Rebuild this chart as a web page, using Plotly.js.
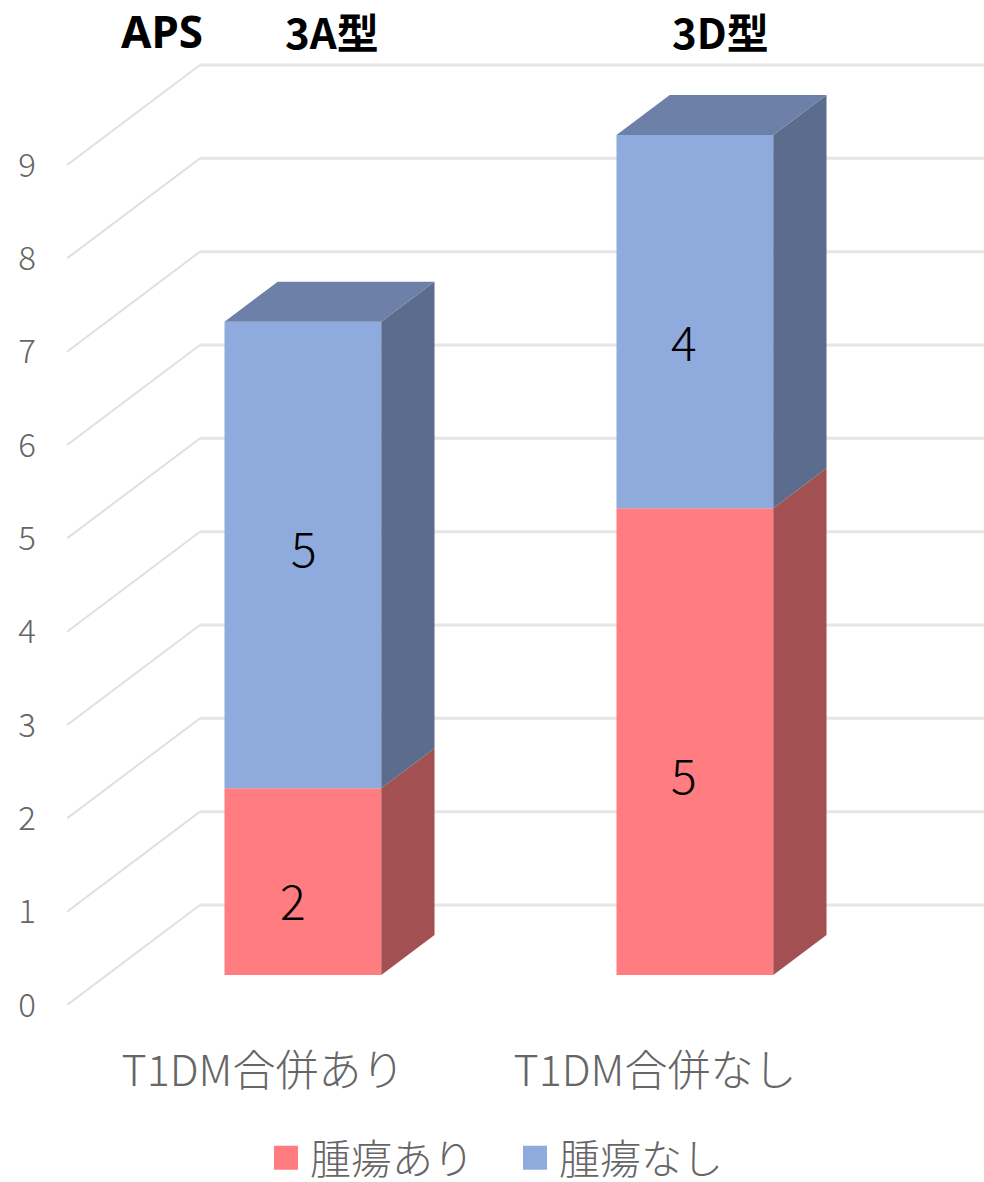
<!DOCTYPE html>
<html><head><meta charset="utf-8">
<script src="https://cdn.plot.ly/plotly-3.0.1.min.js"></script>
<style>html,body{margin:0;padding:0;background:#fff}
.legend .legendpoints path{transform:translate(16px,0) scale(2) !important}</style>
</head><body><div id="chart" style="width:984px;height:1182px"></div>
<script>
const categories = ["T1DM合併あり", "T1DM合併なし"];
const seriesNames = ["腫瘍あり", "腫瘍なし"];
const tumorYes = [2, 5];
const tumorNo = [5, 4];
const tickValues = [0,1,2,3,4,5,6,7,8,9];
const groupTitles = ["3A型", "3D型"];
const chartLabel = "APS";

// oblique projection (axis units per full depth unit)
const DX = 133/392, DY = 100/93.33, FRONT = 0.3, BACK = 0.7, BW = 0.4;
const FONT = '"Noto Sans CJK JP","Noto Sans",sans-serif';
const LATIN = '"Noto Sans",sans-serif';
const LEGEND_FONT = '"Liberation Sans","Noto Sans CJK JP",sans-serif';
const XMIN = -0.5, XMAX = XMIN + 917/392;

const palette = [
  {front:'#FF7C80', side:'#A25052', top:'#B05A5C'},
  {front:'#8FAADC', side:'#5C6C8C', top:'#6C80A8'}
];
const series = [tumorYes, tumorNo];

function poly(xs, ys, color){
  return {type:'scatter', mode:'none', x:xs, y:ys, fill:'toself', fillcolor:color,
          showlegend:false, hoverinfo:'skip'};
}
const traces = [];
// side and top faces
categories.forEach((c,i)=>{
  let base = 0;
  const xl = i - BW/2, xr = i + BW/2;
  series.forEach((s,k)=>{
    const v0 = base, v1 = base + s[i];
    traces.push(poly(
      [xr+FRONT*DX, xr+BACK*DX, xr+BACK*DX, xr+FRONT*DX],
      [v0+FRONT*DY, v0+BACK*DY, v1+BACK*DY, v1+FRONT*DY], palette[k].side));
    base = v1;
  });
  const k = series.length-1;
  traces.push(poly(
    [xl+FRONT*DX, xl+BACK*DX, xr+BACK*DX, xr+FRONT*DX],
    [base+FRONT*DY, base+BACK*DY, base+BACK*DY, base+FRONT*DY], palette[k].top));
});
// front faces: real bars carrying the legend
series.forEach((s,k)=>{
  const bases = s.map((_,i)=>{
    let b = 0; for(let j=0;j<k;j++) b += series[j][i];
    return b + FRONT*DY;
  });
  traces.push({type:'bar', name:seriesNames[k],
    x:categories.map((_,i)=>i+FRONT*DX), y:s, base:bases, width:BW,
    marker:{color:palette[k].front, line:{width:0}}, hoverinfo:'skip'});
});

// wall gridlines, computed from the tick values
const shapes = [];
tickValues.forEach(v=>{
  shapes.push({type:'line', layer:'below', xref:'x', yref:'y',
    x0:XMIN, y0:v, x1:XMIN+DX, y1:v+DY, line:{color:'#E0E0E0', width:2}});
  shapes.push({type:'line', layer:'below', xref:'x', yref:'y',
    x0:XMIN+DX, y0:v+DY, x1:XMAX, y1:v+DY, line:{color:'#E6E6E6', width:3}});
});

// data labels
const labelShift = [[{dx:-10,dy:-17},{dx:1,dy:9}],[{dx:-11,dy:-31},{dx:-11,dy:-18}]];
const annotations = [];
categories.forEach((c,i)=>{
  let base = 0;
  series.forEach((s,k)=>{
    annotations.push({x:i+FRONT*DX, y:base+s[i]/2+FRONT*DY, xref:'x', yref:'y',
      text:String(s[i]), showarrow:false, xshift:labelShift[i][k].dx, yshift:labelShift[i][k].dy,
      font:{family:FONT, size:48, color:'#000', weight:300}});
    base += s[i];
  });
});
[[162,chartLabel,44,LATIN,31],[332,groupTitles[0],42,FONT,31],[720,groupTitles[1],42,FONT,31]].forEach(t=>{
  annotations.push({xref:'paper', yref:'paper', x:(t[0]-67)/917, y:1-t[4]/1005, text:t[1],
    showarrow:false, font:{family:t[3], size:t[2], color:'#000', weight:700}, xanchor:'center', yanchor:'middle'});
});

const layout = {
  width:984, height:1182, paper_bgcolor:'#fff', plot_bgcolor:'#fff',
  margin:{l:67, r:0, t:0, b:177, pad:0, autoexpand:false},
  barmode:'overlay',
  showlegend:true,
  legend:{orientation:'h', x:(270-67)/917, xanchor:'left', y:-153/1005, yanchor:'middle',
    font:{family:LEGEND_FONT, size:41, color:'#666666', weight:300},
    entrywidth:204, entrywidthmode:'pixels', traceorder:'normal', bgcolor:'rgba(0,0,0,0)'},
  xaxis:{range:[XMIN,XMAX], tickvals:categories.map((_,i)=>i), ticktext:categories,
    showgrid:false, zeroline:false, showline:false, ticks:'', ticklabelstandoff:37,
    tickfont:{family:FONT, size:43, color:'#666666', weight:300}, fixedrange:true},
  yaxis:{range:[0,1005/93.33], tickvals:tickValues, ticktext:tickValues.map(String),
    showgrid:false, zeroline:false, showline:false, ticks:'', ticklabelstandoff:30,
    tickfont:{family:FONT, size:33, color:'#666666', weight:300}, fixedrange:true},
  shapes:shapes, annotations:annotations
};
Plotly.newPlot('chart', traces, layout, {displayModeBar:false, responsive:false});
</script></body></html>
